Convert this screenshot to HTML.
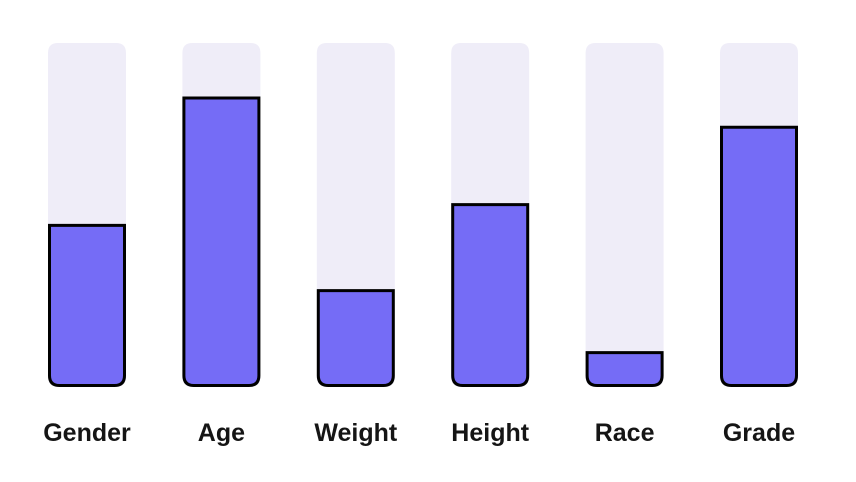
<!DOCTYPE html>
<html><head><meta charset="utf-8"><style>
html,body{margin:0;padding:0;background:#fff;}
svg{display:block;}
text{font-family:"Liberation Sans","DejaVu Sans",sans-serif;font-size:25px;font-weight:bold;fill:#151515;}
</style></head><body>
<svg id="chart" width="856" height="482" viewBox="0 0 856 482"></svg>
<script>
const categories = ["Gender","Age","Weight","Height","Race","Grade"];
const values = [47, 84, 28, 53, 10, 75.5];
const maxValue = 100;

const svg = document.getElementById('chart');
const NS = 'http://www.w3.org/2000/svg';
const top0 = 43, bottom0 = 387, barW = 78, firstC = 87, lastC = 759, r = 10;
function xCenter(i){ return firstC + i*(lastC-firstC)/(categories.length-1); }
function yScale(v){ return bottom0 - (v/maxValue)*(bottom0-top0); }
function shape(x, y, w, b, rt, rb){
  return `M${x},${y+rt} Q${x},${y} ${x+rt},${y} L${x+w-rt},${y} Q${x+w},${y} ${x+w},${y+rt} L${x+w},${b-rb} Q${x+w},${b} ${x+w-rb},${b} L${x+rb},${b} Q${x},${b} ${x},${b-rb} Z`;
}
categories.forEach((c, i) => {
  const cx = xCenter(i), x = cx - barW/2;
  const track = document.createElementNS(NS, 'path');
  track.setAttribute('d', shape(x, top0, barW, bottom0, r, r));
  track.setAttribute('fill', '#efedf8');
  
  
  svg.appendChild(track);
  const y = yScale(values[i]);
  const bar = document.createElementNS(NS, 'path');
  bar.setAttribute('d', shape(x+1.5, y, barW-3, bottom0-1.5, 0, r));
  bar.setAttribute('fill', '#756cf6');
  bar.setAttribute('stroke', '#000');
  bar.setAttribute('stroke-width', '3');
  
  
  svg.appendChild(bar);
  const t = document.createElementNS(NS, 'text');
  t.setAttribute('x', cx);
  t.setAttribute('y', 441);
  t.setAttribute('text-anchor', 'middle');
  t.textContent = c;
  
  
  svg.appendChild(t);
});
</script>
</body></html>
